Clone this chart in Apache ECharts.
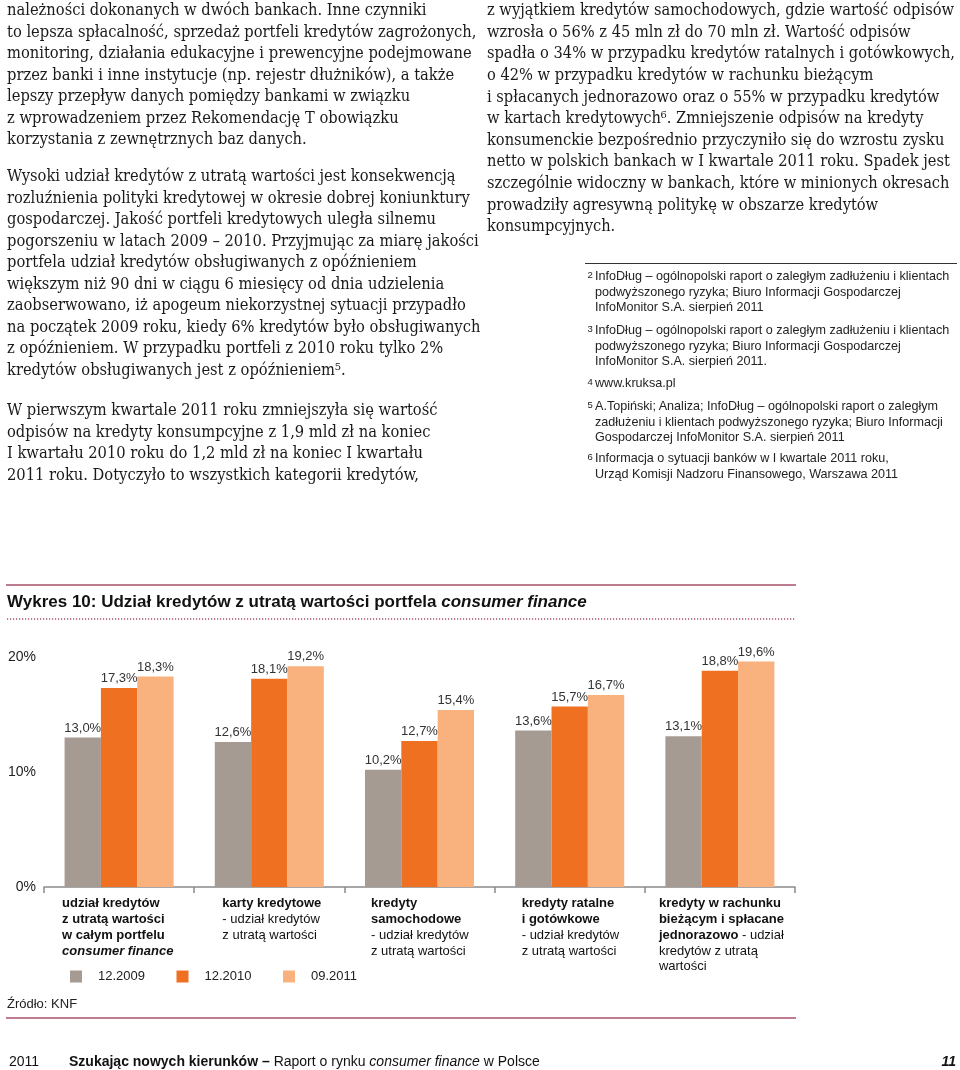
<!DOCTYPE html>
<html>
<head>
<meta charset="utf-8">
<script src="https://cdn.jsdelivr.net/npm/echarts@6/dist/echarts.min.js"></script>
<style>
  html, body { margin:0; padding:0; background:#fff; }
  #page { position:relative; width:960px; height:1070px; overflow:hidden; }
  #chart { position:absolute; left:0; top:0; width:960px; height:1070px; }
  .txt { position:absolute; z-index:2; color:#1a1a1a; white-space:nowrap; }
  .serif { font-family:"DejaVu Serif Condensed","DejaVu Serif",serif; font-stretch:condensed; font-size:16px; }
  .serif div span { display:inline-block; }
  .fn { position:absolute; z-index:2; font-family:"Liberation Sans",Arial,sans-serif; font-size:12.6px; line-height:15.5px; color:#222; white-space:nowrap; }
  .fn .num { position:absolute; left:-7.5px; top:-2px; font-size:9.5px; }
  .foot { position:absolute; z-index:2; font-family:"Liberation Sans",Arial,sans-serif; font-size:14px; color:#111; white-space:nowrap; line-height:16px; }
</style>
</head>
<body>
<div id="page">
  <div id="chart"></div>

  <div class="txt serif" id="l1" style="left:7px; top:-0.75px; line-height:21.5px;">
    <div><span>należności dokonanych w dwóch bankach. Inne czynniki</span></div>
    <div><span class="ref">to lepsza spłacalność, sprzedaż portfeli kredytów zagrożonych,</span></div>
    <div><span>monitoring, działania edukacyjne i prewencyjne podejmowane</span></div>
    <div><span>przez banki i inne instytucje (np. rejestr dłużników), a także</span></div>
    <div><span>lepszy przepływ danych pomiędzy bankami w związku</span></div>
    <div><span>z wprowadzeniem przez Rekomendację T obowiązku</span></div>
    <div><span>korzystania z zewnętrznych baz danych.</span></div>
  </div>
  <div class="txt serif" style="left:7px; top:165.25px; line-height:21.5px;">
    <div><span>Wysoki udział kredytów z utratą wartości jest konsekwencją</span></div>
    <div><span>rozluźnienia polityki kredytowej w okresie dobrej koniunktury</span></div>
    <div><span>gospodarczej. Jakość portfeli kredytowych uległa silnemu</span></div>
    <div><span>pogorszeniu w latach 2009 – 2010. Przyjmując za miarę jakości</span></div>
    <div><span>portfela udział kredytów obsługiwanych z opóźnieniem</span></div>
    <div><span>większym niż 90 dni w ciągu 6 miesięcy od dnia udzielenia</span></div>
    <div><span>zaobserwowano, iż apogeum niekorzystnej sytuacji przypadło</span></div>
    <div><span>na początek 2009 roku, kiedy 6% kredytów było obsługiwanych</span></div>
    <div><span>z opóźnieniem. W przypadku portfeli z 2010 roku tylko 2%</span></div>
    <div><span>kredytów obsługiwanych jest z opóźnieniem⁵.</span></div>
  </div>
  <div class="txt serif" style="left:7px; top:399.25px; line-height:21.5px;">
    <div><span>W pierwszym kwartale 2011 roku zmniejszyła się wartość</span></div>
    <div><span>odpisów na kredyty konsumpcyjne z 1,9 mld zł na koniec</span></div>
    <div><span>I kwartału 2010 roku do 1,2 mld zł na koniec I kwartału</span></div>
    <div><span>2011 roku. Dotyczyło to wszystkich kategorii kredytów,</span></div>
  </div>
  <div class="txt serif" id="r1" style="left:487px; top:-0.8px; line-height:21.6px;">
    <div><span class="ref">z wyjątkiem kredytów samochodowych, gdzie wartość odpisów</span></div>
    <div><span>wzrosła o 56% z 45 mln zł do 70 mln zł. Wartość odpisów</span></div>
    <div><span>spadła o 34% w przypadku kredytów ratalnych i gotówkowych,</span></div>
    <div><span>o 42% w przypadku kredytów w rachunku bieżącym</span></div>
    <div><span>i spłacanych jednorazowo oraz o 55% w przypadku kredytów</span></div>
    <div><span>w kartach kredytowych⁶. Zmniejszenie odpisów na kredyty</span></div>
    <div><span>konsumenckie bezpośrednio przyczyniło się do wzrostu zysku</span></div>
    <div><span>netto w polskich bankach w I kwartale 2011 roku. Spadek jest</span></div>
    <div><span>szczególnie widoczny w bankach, które w minionych okresach</span></div>
    <div><span>prowadziły agresywną politykę w obszarze kredytów</span></div>
    <div><span>konsumpcyjnych.</span></div>
  </div>

  <div style="position:absolute; z-index:2; left:585px; top:263px; width:372px; height:0; border-top:1px solid #333;"></div>
  <div class="fn" style="left:595px; top:269.25px;"><span class="num">2</span>InfoDług – ogólnopolski raport o zaległym zadłużeniu i klientach<br>podwyższonego ryzyka; Biuro Informacji Gospodarczej<br>InfoMonitor S.A. sierpień 2011</div>
  <div class="fn" style="left:595px; top:323.25px;"><span class="num">3</span>InfoDług – ogólnopolski raport o zaległym zadłużeniu i klientach<br>podwyższonego ryzyka; Biuro Informacji Gospodarczej<br>InfoMonitor S.A. sierpień 2011.</div>
  <div class="fn" style="left:595px; top:376.25px;"><span class="num">4</span>www.kruksa.pl</div>
  <div class="fn" style="left:595px; top:399.25px;"><span class="num">5</span>A.Topiński; Analiza; InfoDług – ogólnopolski raport o zaległym<br>zadłużeniu i klientach podwyższonego ryzyka; Biuro Informacji<br>Gospodarczej InfoMonitor S.A. sierpień 2011</div>
  <div class="fn" style="left:595px; top:451.25px;"><span class="num">6</span>Informacja o sytuacji banków w I kwartale 2011 roku,<br>Urząd Komisji Nadzoru Finansowego, Warszawa 2011</div>

  <div class="foot" style="left:9px; top:1053px;">2011</div>
  <div class="foot" style="left:69px; top:1053px;"><b>Szukając nowych kierunków –</b> Raport o rynku <i>consumer finance</i> w Polsce</div>
  <div class="foot" style="right:4px; top:1053px;"><b><i>11</i></b></div>
</div>

<script>
// ---- data ----
const categories = [
  '{b|udział kredytów}\n{b|z utratą wartości}\n{b|w całym portfelu}\n{bi|consumer finance}',
  '{b|karty kredytowe}\n{n|- udział kredytów}\n{n|z utratą wartości}',
  '{b|kredyty}\n{b|samochodowe}\n{n|- udział kredytów}\n{n|z utratą wartości}',
  '{b|kredyty ratalne}\n{b|i gotówkowe}\n{n|- udział kredytów}\n{n|z utratą wartości}',
  '{b|kredyty w rachunku}\n{b|bieżącym i spłacane}\n{b|jednorazowo}{n| - udział}\n{n|kredytów z utratą}\n{n|wartości}'
];
const seriesNames = ['12.2009', '12.2010', '09.2011'];
const values2009 = [13.0, 12.6, 10.2, 13.6, 13.1];
const values2010 = [17.3, 18.1, 12.7, 15.7, 18.8];
const values2011 = [18.3, 19.2, 15.4, 16.7, 19.6];
const yTicks = [0, 10, 20];
const chartTitle = 'Wykres 10: Udział kredytów z utratą wartości portfela ';
const chartTitleItalic = 'consumer finance';
const sourceText = 'Źródło: KNF';

// ---- layout / style ----
const labelShift = [-57, -47, -48.5, -48, -61];
const colors = ['#a69b93', '#f07022', '#f9b17e'];
const SANS = '"Liberation Sans", Arial, Helvetica, sans-serif';
const maroon = '#a8506a';

const chart = echarts.init(document.getElementById('chart'), null, {renderer: 'canvas'});
const allValues = [values2009, values2010, values2011];

const richCat = {
  b: { fontFamily: SANS, fontSize: 13, fontWeight: 'bold', color: '#111', lineHeight: 15.7, align: 'left' },
  bi: { fontFamily: SANS, fontSize: 13, fontWeight: 'bold', fontStyle: 'italic', color: '#111', lineHeight: 15.7, align: 'left' },
  n: { fontFamily: SANS, fontSize: 13, color: '#111', lineHeight: 15.7, align: 'left' }
};

const option = {
  animation: false,
  textStyle: { fontFamily: SANS },
  title: {
    left: 7, top: 594, padding: 0,
    text: '{b|' + chartTitle + '}{bi|' + chartTitleItalic + '}',
    textStyle: {
      rich: {
        b: { fontFamily: SANS, fontSize: 17, fontWeight: 'bold', color: '#111' },
        bi: { fontFamily: SANS, fontSize: 17, fontWeight: 'bold', fontStyle: 'italic', color: '#111' }
      }
    }
  },
  legend: {
    left: 70, top: 970, padding: 0,
    icon: 'rect', itemWidth: 12, itemHeight: 12, itemGap: 31.5,
    data: seriesNames,
    textStyle: { fontFamily: SANS, fontSize: 13, color: '#222', padding: [0, 0, 0, 11] }
  },
  grid: { left: 44, right: 165, top: 657, bottom: 183, containLabel: false },
  xAxis: {
    type: 'category',
    data: categories.map((c, i) => ({
      value: c,
      textStyle: { align: 'left', verticalAlign: 'top', padding: [0, 0, 0, labelShift[i]], rich: richCat }
    })),
    axisLine: { show: true, lineStyle: { color: '#8a8a8a', width: 1.5 } },
    axisTick: { show: true, length: 6, lineStyle: { color: '#8a8a8a', width: 1.5 } },
    axisLabel: {
      interval: 0, margin: 9, align: 'left', verticalAlign: 'top',
      lineHeight: 15.7,
      rich: richCat
    }
  },
  yAxis: {
    type: 'value', min: yTicks[0], max: yTicks[yTicks.length - 1], interval: yTicks[1] - yTicks[0],
    axisLine: { show: false }, axisTick: { show: false }, splitLine: { show: false },
    axisLabel: { formatter: '{value}%', fontFamily: SANS, fontSize: 14, color: '#222', margin: 8 }
  },
  series: seriesNames.map((name, i) => ({
    name: name,
    type: 'bar',
    data: allValues[i],
    barGap: 0,
    barCategoryGap: '27.4%',
    itemStyle: { color: colors[i] },
    label: {
      show: true, position: 'top', distance: 3,
      fontFamily: SANS, fontSize: 13, color: '#333',
      formatter: p => p.value.toFixed(1).replace('.', ',') + '%'
    }
  })),
  graphic: [
    { type: 'line', shape: { x1: 6, y1: 585, x2: 796, y2: 585 }, style: { stroke: maroon, lineWidth: 1.5 } },
    { type: 'line', shape: { x1: 7, y1: 619, x2: 796, y2: 619 }, style: { stroke: maroon, lineWidth: 1.5, lineDash: [1.2, 1.8] } },
    { type: 'line', shape: { x1: 6, y1: 1018, x2: 796, y2: 1018 }, style: { stroke: maroon, lineWidth: 1.5 } },
    { type: 'text', left: 7, top: 997.5, style: { text: sourceText, font: '13px "Liberation Sans", Arial, sans-serif', fill: '#222' } }
  ]
};
chart.setOption(option);

// fit body text width to the reference column widths
function fitBlock(refSel, target, blocks) {
  const ref = document.querySelector(refSel);
  const w = ref.getBoundingClientRect().width;
  const cur = parseFloat(getComputedStyle(ref).fontSize);
  const size = cur * target / w;
  blocks.forEach(b => b.style.fontSize = size.toFixed(2) + 'px');
}
function fit() {
  const all = Array.from(document.querySelectorAll('.serif'));
  const right = document.getElementById('r1');
  fitBlock('#l1 .ref', 469, all.filter(b => b !== right));
  fitBlock('#r1 .ref', 467, [right]);
}
fit();
if (document.fonts && document.fonts.ready) { document.fonts.ready.then(fit); }
</script>
</body>
</html>
